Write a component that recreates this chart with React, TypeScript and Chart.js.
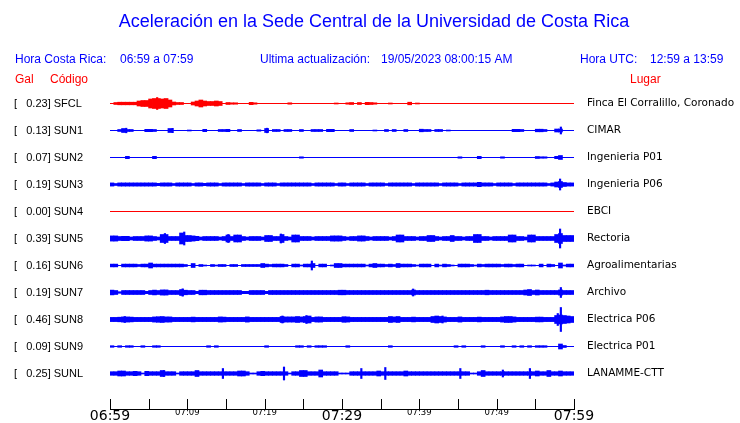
import React, { useEffect, useRef } from 'react';
import { Chart, registerables } from 'chart.js';

Chart.register(...registerables);

// ---------- texts ----------
const TITLE = 'Aceleración en la Sede Central de la Universidad de Costa Rica';
const HEADER_CR = ['Hora Costa Rica:', '06:59 a 07:59'];
const HEADER_UPD = ['Ultima actualización:', '19/05/2023 08:00:15 AM'];
const HEADER_UTC = ['Hora UTC:', '12:59 a 13:59'];
const COL_GAL = 'Gal';
const COL_CODE = 'Código';
const COL_PLACE = 'Lugar';

// ---------- stations ----------
const CODES = ['SFCL', 'SUN1', 'SUN2', 'SUN3', 'SUN4', 'SUN5', 'SUN6', 'SUN7', 'SUN8', 'SUN9', 'SUNL'];
const GAL = [0.23, 0.13, 0.07, 0.19, 0.0, 0.39, 0.16, 0.19, 0.46, 0.09, 0.25];
const PLACES = [
  'Finca El Corralillo, Coronado', 'CIMAR', 'Ingenieria P01', 'Ingenieria P06', 'EBCI', 'Rectoria',
  'Agroalimentarias', 'Archivo', 'Electrica P06', 'Electrica P01', 'LANAMME-CTT',
];
const TRACE_COLORS = ['#ff0000', '#0000ff', '#0000ff', '#0000ff', '#ff0000', '#0000ff', '#0000ff', '#0000ff', '#0000ff', '#0000ff', '#0000ff'];

// ---------- time axis (minutes after 06:59) ----------
const WINDOW_MINUTES = [0, 60];
const TICK_MINUTES = [0, 5, 10, 15, 20, 25, 30, 35, 40, 45, 50, 55, 60];
const TICK_LABELS = ['06:59', '', '07:09', '', '07:19', '', '07:29', '', '07:39', '', '07:49', '', '07:59'];
const MAJOR_LABELS = ['06:59', '07:29', '07:59'];
const BIN_MINUTES = 0.5;

// ---------- envelope half-amplitudes per 30 s bin (relative units) ----------
const SFCL_ENV = [
  0, 1, 1.3, 1.3, 1.3, 1.3, 1.3, 2.5, 3, 3, 4.5, 5, 5, 4.5, 5, 3.5, 1.5, 1, 1, 0,
  0, 1.5, 2.5, 3.5, 2.5, 2, 2, 2.5, 2, 0, 1, 0.7, 0.7, 0, 0, 0, 1.2, 0.7, 0, 0,
  0, 0, 0, 0, 0, 0, 0.7, 0, 0, 0, 0, 0, 0, 0, 0, 0, 0, 0, 0.5, 0,
  0, 0.7, 1, 0, 1, 0, 1.2, 1, 0.7, 0, 0, 0, 0.5, 0, 0, 0, 0, 1.3, 0, 0.5,
  0, 0, 0, 0, 0, 0, 0, 0, 0, 0, 0, 0, 0, 0, 0, 0, 0, 0, 0, 0,
  0, 0, 0, 0, 0, 0, 0, 0, 0, 0, 0, 0, 0, 0, 0, 0, 0, 0, 0, 0,
];
const SUN1_ENV = [
  0, 0, 1, 2, 1, 1, 0, 0, 0, 1.2, 1.2, 1, 0, 0, 0, 2, 0, 0, 0, 0,
  0.5, 0, 0, 0, 1.2, 0, 0, 0, 1, 1, 1.2, 0, 0, 1, 0, 0, 0, 0, 0.7, 0,
  2, 0, 1, 1, 0, 1, 1, 0, 0, 1, 0, 0, 1, 1, 1, 0, 1.2, 1.2, 0, 0,
  0, 0, 1, 0, 0, 0, 0, 0, 0.5, 0, 0, 1, 0, 1, 0, 0, 1, 0, 0, 0,
  1.3, 1, 1, 0, 1, 1, 0, 0.5, 0, 0, 0, 0, 0, 0, 0, 0, 0, 0, 0, 0,
  0, 0, 0, 0, 1.2, 1.2, 1, 0, 0, 0, 1.3, 1.3, 1, 0, 0, 1.5, 1.5, 0, 0, 0,
];
const SUN2_ENV = [
  0, 0, 0, 0, 1.2, 0, 0, 0, 0, 0, 0, 1.2, 0, 0, 0, 0, 0, 0, 0, 0,
  0, 0, 0, 0, 0, 0, 0, 0, 0, 0, 0, 0, 0, 0, 0, 0, 0, 0, 0, 0,
  0, 0, 0, 0, 0, 0, 0, 0, 0, 0.7, 0, 0, 0, 0, 0, 0, 0, 0, 0, 0,
  0, 0, 0, 0, 0, 0, 0, 0, 0, 0, 0, 0, 0, 0, 0, 0, 0, 0, 0, 0,
  0, 0, 0, 0, 0, 0, 0, 0, 0, 0, 0.7, 0, 0, 0, 0, 1.2, 0, 0, 0, 0,
  0, 0.7, 0, 0, 0, 0, 0, 0, 0, 0, 1, 0.7, 0.7, 0, 0, 1.2, 2, 0, 0, 0,
];
const SUN3_ENV = [
  1.6, 1, 1.6, 1.6, 1.6, 1.6, 1.6, 1.6, 1.6, 1.6, 1.6, 1.6, 1.2, 1.6, 1.6, 1.6, 1, 1.6, 1.6, 1.6,
  1.6, 1, 1.6, 1.6, 1.2, 1.6, 1.6, 1.6, 1, 1.6, 1.6, 1.6, 1.6, 1.6, 1, 1.6, 1.6, 1.6, 1.6, 1,
  1.6, 1.6, 1.6, 1, 1.6, 1.6, 1.6, 1.6, 1.6, 1.6, 1.6, 1.6, 1, 1.6, 1.6, 1.6, 1.6, 1.6, 1, 1.6,
  1.6, 1, 1.6, 1.6, 1.6, 1.6, 1, 1.6, 1.6, 1.6, 1.6, 1, 1.6, 1.6, 1.6, 1.6, 1.6, 1.6, 1, 1.6,
  1.6, 1.6, 1.6, 1.6, 1.6, 1, 1.6, 1.6, 1.6, 1.6, 1, 1.6, 1.6, 1.6, 1.6, 2.2, 1.6, 1.6, 1.6, 1,
  1.6, 1.6, 1.6, 1.6, 1, 1.6, 1.6, 1.6, 1.6, 1.6, 1.6, 1.6, 1.6, 1, 1.6, 2.5, 3, 2, 1.6, 1.6,
];
const SUN4_ENV: number[] = [];
const SUN5_ENV = [
  2.6, 2.6, 2, 2.2, 2.2, 1.5, 2, 2, 2, 2.6, 2.6, 2, 1.5, 4, 4, 2, 2, 2, 5.5, 3,
  3, 2.6, 2.2, 1.5, 2, 2, 2, 2, 1.5, 2, 3.5, 2, 3.5, 3.5, 2, 1.5, 2, 2, 2, 1.5,
  3, 3, 2, 2, 4, 2, 1.5, 3.5, 3.5, 2, 2, 2, 1.5, 2, 2, 2, 2, 2.6, 2.6, 2.6,
  2, 1.5, 2, 2, 2.6, 2.6, 2, 1.5, 2, 2, 2, 2, 1.5, 2, 3.5, 3.5, 2, 2, 2, 1.5,
  2, 2, 3, 3, 2, 1.5, 2, 2, 3, 2, 2, 1.5, 2, 2, 4, 4, 2, 2, 1.5, 2,
  2, 2, 2, 3.5, 3.5, 2, 2, 1.5, 3.5, 3.5, 2, 2, 2, 2, 2, 4, 5, 3, 3, 3,
];
const SUN6_ENV = [
  1.4, 1.4, 0, 1.4, 1.4, 1.4, 1.4, 1, 1.4, 1.4, 2.5, 1.4, 1.4, 1.4, 1.4, 1.4, 1.4, 1.4, 1.4, 1,
  0, 2, 0, 1, 0.5, 0, 1, 0.5, 1, 1, 0, 1, 1, 0, 1, 1, 1, 1, 1, 2,
  1.4, 1, 1.4, 1.4, 1.4, 1, 0, 1.4, 1.4, 0.5, 1.4, 1.4, 2, 0, 1.4, 1.4, 0, 0.5, 2, 2,
  1.4, 1.4, 1.4, 1.4, 1.4, 1.4, 0.5, 1.4, 2, 1.4, 1.4, 1, 1.4, 1, 2, 1.4, 1.4, 1.4, 1, 0.5,
  1.4, 1.4, 1.4, 0, 1.4, 0.5, 1.4, 1, 0.5, 0, 1.4, 1.4, 1.4, 1, 0.5, 1.4, 1, 1.4, 1.4, 1.4,
  1.4, 1, 1.4, 1.4, 1, 1.4, 1.4, 0, 0.5, 0.5, 0, 1.4, 0, 1.4, 1, 0, 2.5, 0.5, 1.4, 1.4,
];
const SUN7_ENV = [
  2.4, 2, 0.8, 2, 2, 2, 2, 2, 2, 1.2, 2, 2.4, 2, 2.6, 2.6, 2, 2, 2, 3, 2.3,
  2, 2, 1.2, 2.3, 2.3, 2, 2, 2, 2, 2, 2, 2, 2, 2, 1.2, 1.2, 2, 2, 2, 2,
  1.2, 2, 2, 2, 2, 2, 2, 2, 2, 2, 2, 2, 2, 2, 2, 2, 2, 2, 2, 2.3,
  2.3, 2, 2, 2, 2, 2, 2, 2, 2, 2, 2, 2, 2, 2, 2, 2, 2, 2, 2.5, 2,
  2, 2, 2, 2, 2, 2, 2, 2, 2, 2, 2, 2, 2, 2, 2, 2, 2, 2.3, 2, 2,
  2, 2, 2, 2, 2, 2, 2, 2.5, 3, 2, 2.5, 2, 2, 2, 2, 2, 2.6, 2, 2, 2,
];
const SUN8_ENV = [
  2.1, 2.1, 2.3, 2.6, 2.6, 2.4, 2.1, 2.1, 2.1, 2.1, 2.1, 2.6, 2.8, 3, 2.6, 2.6, 2.1, 2.1, 2.1, 2.1,
  2.1, 2.4, 2.1, 2.1, 2.1, 2.1, 2.1, 2.1, 2.6, 2.4, 2.1, 2.1, 2.1, 2.1, 2.1, 2.6, 2.1, 2.1, 2.1, 2.1,
  2.1, 2.1, 2.1, 2.1, 3, 2.6, 2.6, 2.6, 3, 2.6, 3, 3.5, 2.1, 2.6, 2.6, 2.1, 2.1, 2.1, 2.1, 2.1,
  2.8, 2.6, 2.1, 2.1, 2.1, 2.1, 2.1, 2.1, 2.1, 2.1, 2.1, 2.1, 3, 2.6, 3, 2.1, 2.1, 2.1, 2.4, 2.1,
  2.1, 2.1, 2.1, 3, 3.5, 3, 2.6, 2.1, 2.1, 2.1, 2.6, 2.1, 2.1, 2.1, 2.1, 2.4, 2.1, 2.1, 2.1, 2.1,
  2.1, 2.6, 3, 3, 2.6, 2.1, 2.1, 2.1, 2.1, 2.1, 2.4, 2.4, 2.1, 2.1, 2.1, 4, 4.5, 4, 3.5, 3,
];
const SUN9_ENV = [
  0.8, 0, 0.8, 0, 0.8, 0.8, 0, 0, 0.8, 0, 0, 0.8, 0.8, 0, 0, 0, 0, 0, 0, 0,
  0, 0, 0, 0, 0, 0.8, 0, 0.8, 0, 0, 0, 0, 0, 0, 0, 0, 0, 0, 0, 0,
  0.8, 0, 0, 0, 0, 0, 0, 0, 0.8, 0.8, 0, 0.8, 0, 0.8, 0.8, 0.8, 0, 0, 0, 0,
  0, 0.8, 0, 0, 0, 0, 0, 0, 0, 0, 0, 0, 0.8, 0, 0, 0, 0, 0, 0, 0,
  0, 0, 0, 0, 0, 0, 0, 0, 0, 0.8, 0, 0.8, 0, 0, 0, 0, 0.8, 0, 0, 0,
  0, 0.8, 0, 0, 0.8, 0, 0.8, 0, 0.8, 0, 0.8, 0.8, 0.8, 0, 0, 0, 2.5, 1, 0, 0,
];
const SUNL_ENV = [
  1.8, 1.8, 2.5, 2.5, 1.8, 1.8, 2.2, 1.8, 0.5, 2.2, 1.8, 1.8, 1.8, 3, 1.8, 1.8, 1.8, 0.5, 1.8, 1.8,
  1.8, 1.8, 3, 1.8, 1.8, 1.8, 1.8, 1.8, 1.8, 1.8, 1.8, 1.8, 1.8, 2.5, 2.5, 1.8, 0.5, 0.5, 1.8, 2.2,
  1.8, 1.8, 1.8, 1.8, 1.8, 1.8, 0.5, 1.8, 1.8, 3, 3, 1.8, 1.8, 1.8, 3.5, 1.8, 1.8, 1.8, 1.8, 0.5,
  0.5, 0.5, 1.8, 1.8, 1.8, 1.8, 1.8, 1.8, 1.8, 2.5, 1.8, 1.8, 1.8, 1.8, 1.8, 1.8, 2.5, 1.8, 1.8, 1.8,
  1.8, 1.8, 1.8, 1.8, 1.8, 1.8, 1.8, 1.8, 1.8, 1.8, 1.8, 1.8, 1.8, 0.5, 0.5, 1.8, 3, 1.8, 1.8, 1.8,
  1.8, 1.8, 1.8, 1.8, 1.8, 1.8, 1.8, 1.8, 1.8, 1.8, 2.5, 1.8, 1.8, 3, 1.8, 1.8, 2.5, 1.8, 1.8, 1.8,
];

// ---------- isolated spikes: [minute, half-amplitude] ----------
const SFCL_PEAKS = [[6.1, 6]];
const SUN1_PEAKS = [[58.3, 3.5], [2.1, 2.3], [20.3, 2.3], [8.1, 2.2]];
const SUN2_PEAKS: number[][] = [];
const SUN3_PEAKS = [[58.2, 5.5]];
const SUN4_PEAKS: number[][] = [];
const SUN5_PEAKS = [[9.6, 6.5], [7.1, 5], [58.2, 9.5], [15.3, 4], [22.1, 4.5]];
const SUN6_PEAKS = [[26.1, 4.5]];
const SUN7_PEAKS = [[9.4, 3.7], [39.2, 3.5], [58.3, 5]];
const SUN8_PEAKS = [[58.3, 12], [25.4, 4], [1.9, 3], [22.3, 3.5], [43, 3.5], [57.9, 6]];
const SUN9_PEAKS: number[][] = [];
const SUNL_PEAKS = [[14.6, 5], [22.5, 6.5], [32.5, 5], [35.6, 6], [45.3, 5], [50.8, 3.5], [54.3, 5], [7, 3]];

const ENVELOPES = [SFCL_ENV, SUN1_ENV, SUN2_ENV, SUN3_ENV, SUN4_ENV, SUN5_ENV, SUN6_ENV, SUN7_ENV, SUN8_ENV, SUN9_ENV, SUNL_ENV];
const PEAKS = [SFCL_PEAKS, SUN1_PEAKS, SUN2_PEAKS, SUN3_PEAKS, SUN4_PEAKS, SUN5_PEAKS, SUN6_PEAKS, SUN7_PEAKS, SUN8_PEAKS, SUN9_PEAKS, SUNL_PEAKS];

// ---------- layout ----------
const SPACING = 27;
const BLUE = '#0000ff';
const RED = '#ff0000';
const SANS = '"Liberation Sans", Arial, sans-serif';
const DEJAVU = '"DejaVu Sans", sans-serif';

const galLabel = (i: number) => '[' + GAL[i].toFixed(2).padStart(7, ' ') + '] ' + CODES[i];

const headerPlugin = {
  id: 'header',
  afterDraw(chart: any) {
    const ctx = chart.ctx;
    ctx.save();
    ctx.textBaseline = 'middle';
    ctx.fillStyle = BLUE;
    ctx.font = '18px ' + SANS;
    ctx.textAlign = 'center';
    ctx.fillText(TITLE, 374, 22);
    ctx.textAlign = 'left';
    ctx.font = '12px ' + SANS;
    ctx.fillText(HEADER_CR[0], 15, 60);
    ctx.fillText(HEADER_CR[1], 120, 60);
    ctx.fillText(HEADER_UPD[0], 260, 60);
    ctx.fillText(HEADER_UPD[1], 381, 60);
    ctx.fillText(HEADER_UTC[0], 580, 60);
    ctx.fillText(HEADER_UTC[1], 650, 60);
    ctx.fillStyle = RED;
    ctx.fillText(COL_GAL, 15, 80);
    ctx.fillText(COL_CODE, 50, 80);
    ctx.fillText(COL_PLACE, 630, 80);

    // upward tick marks on the time axis
    const xs = chart.scales.x;
    const bottom = chart.chartArea.bottom;
    ctx.strokeStyle = '#000';
    ctx.lineWidth = 1;
    ctx.beginPath();
    xs.ticks.forEach((t: any) => {
      const px = Math.round(xs.getPixelForValue(t.value)) + 0.5;
      ctx.moveTo(px, bottom);
      ctx.lineTo(px, bottom - 10);
    });
    ctx.stroke();
    ctx.restore();
  },
};

const noPad = (s: any) => {
  s.paddingTop = 0;
  s.paddingBottom = 0;
  s.paddingLeft = 0;
  s.paddingRight = 0;
};

export default function App() {
  const ref = useRef<HTMLCanvasElement | null>(null);

  useEffect(() => {
    document.body.style.margin = '0';
    const canvas = ref.current;
    if (!canvas) return;

    const datasets: any[] = [];
    CODES.forEach((code, i) => {
      const off = i * SPACING;
      const color = TRACE_COLORS[i];
      datasets.push({
        type: 'line',
        label: code + ' base',
        data: [{ x: WINDOW_MINUTES[0], y: off }, { x: WINDOW_MINUTES[1], y: off }],
        borderColor: color,
        borderWidth: 1,
        pointRadius: 0,
        yAxisID: 'y',
        xAxisID: 'x',
      });
      datasets.push({
        type: 'bar',
        label: code + ' env',
        data: ENVELOPES[i]
          .map((a, k) => ({ x: (k + 0.5) * BIN_MINUTES, y: [off - a, off + a], a }))
          .filter((d) => d.a > 0),
        backgroundColor: color,
        borderWidth: 0,
        barThickness: 4,
        grouped: false,
        yAxisID: 'y',
        xAxisID: 'x',
      });
      datasets.push({
        type: 'bar',
        label: code + ' peaks',
        data: PEAKS[i].map(([m, a]) => ({ x: m, y: [off - a, off + a] })),
        backgroundColor: color,
        borderWidth: 0,
        barThickness: 1.5,
        grouped: false,
        yAxisID: 'y',
        xAxisID: 'x',
      });
    });

    const yRange = { min: -13.5, max: 305.5 };

    const chart = new Chart(canvas, {
      type: 'bar',
      data: { datasets },
      plugins: [headerPlugin],
      options: {
        animation: false,
        responsive: false,
        devicePixelRatio: 1,
        events: [],
        layout: { padding: { top: 90, left: 14, right: 0, bottom: 0 } },
        plugins: { legend: { display: false }, tooltip: { enabled: false }, title: { display: false } },
        scales: {
          x: {
            type: 'linear',
            position: 'bottom',
            min: WINDOW_MINUTES[0],
            max: WINDOW_MINUTES[1],
            offset: false,
            grid: { display: false, drawTicks: false, offset: false },
            border: { display: true, color: '#000', width: 1 },
            afterBuildTicks: (s: any) => {
              s.ticks = TICK_MINUTES.map((v) => ({ value: v }));
            },
            afterFit: (s: any) => {
              s.height = 14;
              noPad(s);
            },
            ticks: {
              autoSkip: false,
              maxRotation: 0,
              minRotation: 0,
              padding: 0,
              color: '#000',
              callback: (v: any) => {
                const idx = TICK_MINUTES.indexOf(Number(v));
                return idx >= 0 ? TICK_LABELS[idx] : '';
              },
              font: (ctx: any) => {
                const idx = TICK_MINUTES.indexOf(ctx.tick ? ctx.tick.value : -1);
                const lab = idx >= 0 ? TICK_LABELS[idx] : '';
                return MAJOR_LABELS.includes(lab)
                  ? { family: DEJAVU, size: 14, lineHeight: 1 }
                  : { family: DEJAVU, size: 8.5, lineHeight: 1 };
              },
            },
          },
          y: {
            type: 'linear',
            position: 'left',
            reverse: true,
            min: yRange.min,
            max: yRange.max,
            grid: { display: false, drawTicks: false },
            border: { display: false },
            afterBuildTicks: (s: any) => {
              s.ticks = CODES.map((_, i) => ({ value: i * SPACING }));
            },
            afterFit: (s: any) => {
              s.width = 96;
              noPad(s);
            },
            ticks: {
              autoSkip: false,
              crossAlign: 'far',
              padding: 0,
              color: '#000',
              font: { family: SANS, size: 11 },
              callback: (v: any) => galLabel(Math.round(Number(v) / SPACING)),
            },
          },
          y2: {
            type: 'linear',
            position: 'right',
            reverse: true,
            min: yRange.min,
            max: yRange.max,
            grid: { display: false, drawTicks: false },
            border: { display: false },
            afterBuildTicks: (s: any) => {
              s.ticks = CODES.map((_, i) => ({ value: i * SPACING }));
            },
            afterFit: (s: any) => {
              s.width = 166;
              noPad(s);
            },
            ticks: {
              autoSkip: false,
              crossAlign: 'near',
              padding: 13,
              color: '#000',
              font: { family: DEJAVU, size: 10.5 },
              callback: (v: any) => PLACES[Math.round(Number(v) / SPACING)],
            },
          },
        },
      } as any,
    });

    return () => chart.destroy();
  }, []);

  return (
    <div style={{ width: 740, height: 423, background: '#fff' }}>
      <canvas ref={ref} width={740} height={423} style={{ display: 'block', width: 740, height: 423 }} />
    </div>
  );
}
